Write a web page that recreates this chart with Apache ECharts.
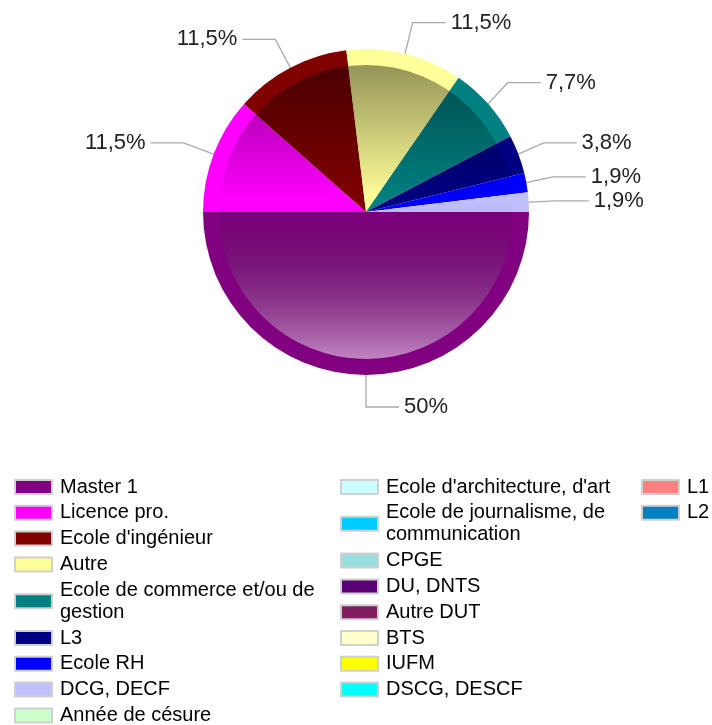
<!DOCTYPE html>
<html><head><meta charset="utf-8">
<script src="https://cdn.jsdelivr.net/npm/echarts@6/dist/echarts.min.js"></script>
<style>html,body{margin:0;padding:0;background:#fff}#c{width:712px;height:725px}</style>
</head><body><div id="c"></div>
<script>
const categories = ['Master 1', 'Licence pro.', "Ecole d'ingénieur", 'Autre', 'Ecole de commerce et/ou de gestion', 'L3', 'Ecole RH', 'DCG, DECF', 'Année de césure',
  "Ecole d'architecture, d'art", 'Ecole de journalisme, de communication', 'CPGE', 'DU, DNTS', 'Autre DUT', 'BTS', 'IUFM', 'DSCG, DESCF',
  'L1', 'L2'];
const values = [26, 6, 6, 6, 4, 2, 1, 1, 0, 0, 0, 0, 0, 0, 0, 0, 0, 0, 0];
const colors = ['#800080', '#ff00ff', '#800000', '#ffff99', '#008080', '#000080', '#0000ff', '#c0c0ff', '#ccffcc',
  '#ccffff', '#00ccff', '#99dddd', '#5c0078', '#801f60', '#ffffcc', '#ffff00', '#00ffff', '#ff8080', '#0080c0'];
const legendCol1 = categories.slice(0, 9);
const legendCol2 = categories.slice(9, 17);
const legendCol3 = categories.slice(17);
const wrapped = {
  'Ecole de commerce et/ou de gestion': 'Ecole de commerce et/ou de\ngestion',
  'Ecole de journalisme, de communication': 'Ecole de journalisme, de\ncommunication'
};

const FONT = '"Liberation Sans", Arial, sans-serif';
const total = values.reduce((a, b) => a + b, 0);
const fmtPct = v => { let s = (v / total * 100).toFixed(1); if (s.endsWith('.0')) s = s.slice(0, -2); return s.replace('.', ',') + '%'; };

const pieData = categories.map((name, i) => {
  const d = { name: name, value: values[i], itemStyle: { color: colors[i] } };
  if (!values[i]) { d.label = { show: false }; d.labelLine = { show: false }; }
  return d;
});

const legendBase = {
  orient: 'vertical', icon: 'rect', itemWidth: 37, itemHeight: 14, itemGap: 3.8, padding: 0,
  top: 476, height: 262, selectedMode: false,
  itemStyle: { borderColor: '#d0d0d0', borderWidth: 2 },
  textStyle: { fontFamily: FONT, fontSize: 20, color: '#000', lineHeight: 22, padding: [0, 0, 0, 3] },
  formatter: n => wrapped[n] || n
};

const chart = echarts.init(document.getElementById('c'));
chart.setOption({
  animation: false,
  legend: [
    Object.assign({}, legendBase, { left: 14, data: legendCol1 }),
    Object.assign({}, legendBase, { left: 340, data: legendCol2 }),
    Object.assign({}, legendBase, { left: 641, data: legendCol3 })
  ],
  series: [
    {
      type: 'pie', center: [366, 212], radius: [0, 163], startAngle: 0, clockwise: true,
      data: pieData,
      itemStyle: { borderWidth: 0 },
      emphasis: { disabled: true },
      label: { show: true, position: 'outside', fontFamily: FONT, fontSize: 22, lineHeight: 22, color: '#222',
        formatter: p => fmtPct(p.value) },
      labelLine: { show: true, length: 32, length2: 33, lineStyle: { color: '#aaa', width: 1.3 } }
    },
    {
      type: 'pie', center: [366, 212], radius: [0, 147], silent: true,
      label: { show: false }, labelLine: { show: false }, emphasis: { disabled: true },
      itemStyle: { borderWidth: 0 },
      data: [{ value: 1, name: '', itemStyle: { color: new echarts.graphic.LinearGradient(0, 0, 0, 1, [
        { offset: 0, color: 'rgba(0,0,0,0.42)' },
        { offset: 0.46, color: 'rgba(0,0,0,0)' },
        { offset: 1, color: 'rgba(255,255,255,0.52)' }
      ]) } }]
    }
  ]
});
</script></body></html>
